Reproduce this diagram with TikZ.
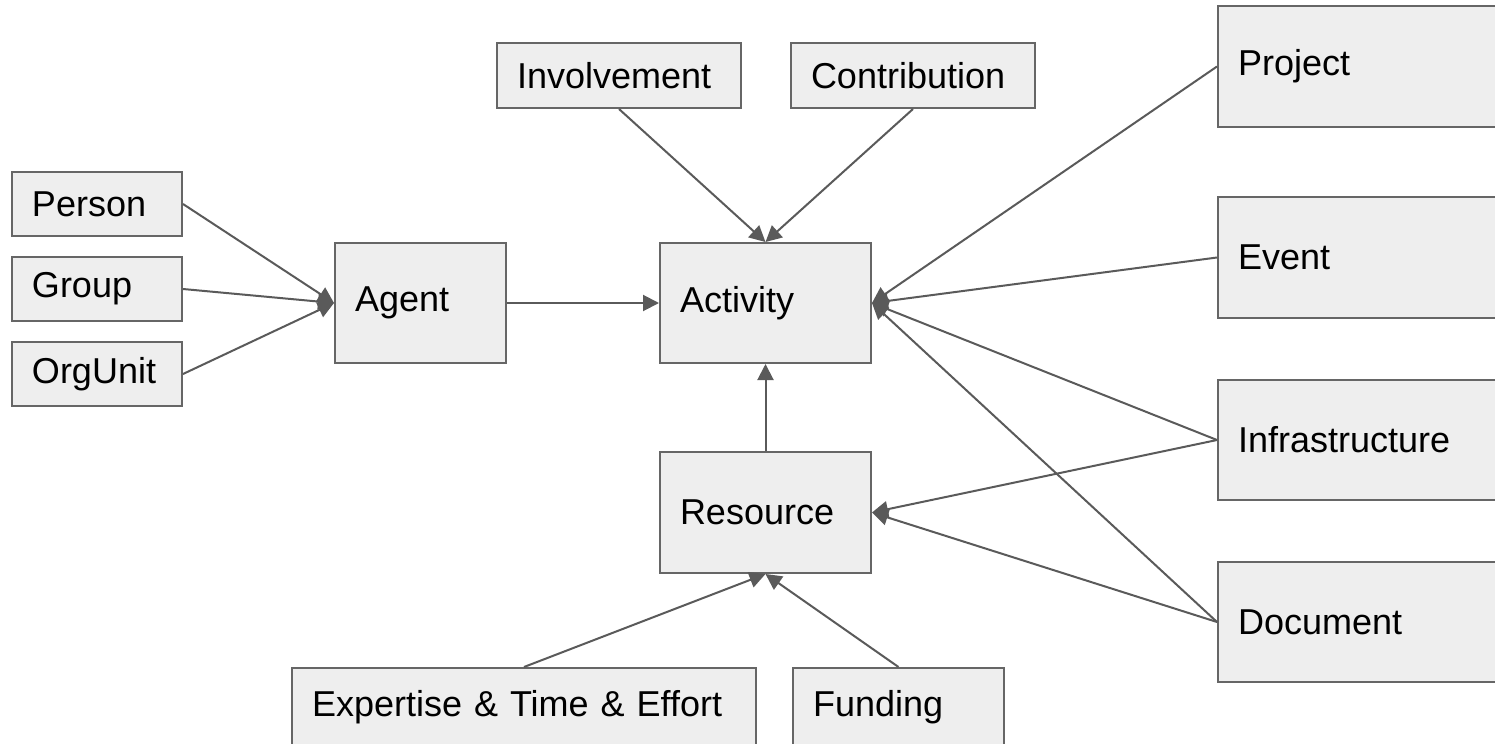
\documentclass[tikz,border=0pt]{standalone}
\usepackage{fontspec}
\setmainfont{Liberation Sans}
\usetikzlibrary{arrows.meta}

\definecolor{boxfill}{HTML}{EEEEEE}
\definecolor{boxline}{HTML}{666666}
\definecolor{arrowgray}{HTML}{5A5A5A}

\tikzset{
  entity/.style 2 args={draw=boxline, fill=boxfill, line width=1pt, rectangle,
    inner xsep=10pt, inner ysep=0pt, align=left, text width=#1, minimum height=#2,
    font=\fontsize{18}{22}\selectfont},
  link/.style={draw=arrowgray, line width=1pt, -{Triangle[length=8pt, width=8pt]}},
}

\begin{document}
\begin{tikzpicture}[x=0.5pt, y=-0.5pt]
    \useasboundingbox (0,0) rectangle (1495,744);
    \clip (0,0) rectangle (1495,744);

    % Nodes
    \node[entity={65pt}{32pt}] (person) at (97,204) {Person};
    \node[entity={65pt}{32pt}] (group) at (97,289) {Group};
    \node[entity={65pt}{32pt}] (orgunit) at (97,374) {OrgUnit};
    \node[entity={65.5pt}{60pt}] (agent) at (420.5,303) {Agent};
    \node[entity={85.5pt}{60pt}] (activity) at (765.5,303) {Activity};
    \node[entity={85.5pt}{60.5pt}] (resource) at (765.5,512.5) {Resource};
    \node[entity={102pt}{32.5pt}] (involvement) at (619,75.5) {Involvement};
    \node[entity={102pt}{32.5pt}] (contribution) at (913,75.5) {Contribution};
    \node[entity={130pt}{60.5pt}] (project) at (1368,66.5) {Project};
    \node[entity={130pt}{60.5pt}] (event) at (1368,257.5) {Event};
    \node[entity={130pt}{60pt}] (infra) at (1368,440) {Infrastructure};
    \node[entity={130pt}{60pt}] (document) at (1368,622) {Document};
    \node[entity={212pt}{39pt}] (expertise) at (524,707) {Expertise \& Time \& Effort};
    \node[entity={85.5pt}{39pt}] (funding) at (898.5,707) {Funding};

    % Arrows
    \draw[link] (person.east) -- (agent.west);
    \draw[link] (group.east) -- (agent.west);
    \draw[link] (orgunit.east) -- (agent.west);
    \draw[link] (agent.east) -- (activity.west);
    \draw[link] (involvement.south) -- (activity.north);
    \draw[link] (contribution.south) -- (activity.north);
    \draw[link] (project.west) -- (activity.east);
    \draw[link] (event.west) -- (activity.east);
    \draw[link] (infra.west) -- (activity.east);
    \draw[link] (document.west) -- (activity.east);
    \draw[link] (infra.west) -- (resource.east);
    \draw[link] (document.west) -- (resource.east);
    \draw[link] (resource.north) -- (activity.south);
    \draw[link] (expertise.north) -- (resource.south);
    \draw[link] (funding.north) -- (resource.south);
\end{tikzpicture}
\end{document}
